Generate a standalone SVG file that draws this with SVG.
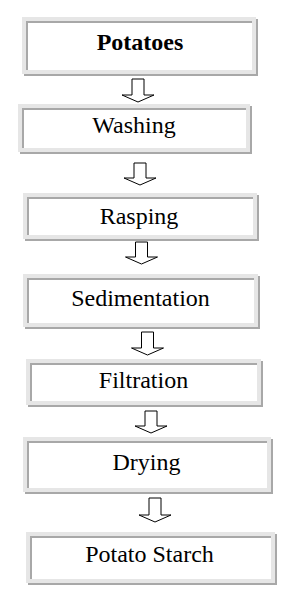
<svg xmlns="http://www.w3.org/2000/svg" width="296" height="597" viewBox="0 0 296 597">
<style>
.fr{fill:#e6e6e6}
.sh{fill:#a8a8a8}
.in{fill:#ffffff}
text{font-family:'Liberation Serif','Times New Roman',Times,serif;font-size:24px;fill:#000;text-anchor:middle}
.b{font-weight:bold}
.ar{fill:#fff;stroke:#000;stroke-width:1}
</style>
<rect width="296" height="597" fill="#fff"/>
<g id="potatoes">
<rect class="fr" x="22" y="17" width="234" height="57"/>
<rect class="sh" x="24" y="74" width="234" height="2"/>
<rect class="sh" x="256" y="19" width="2" height="57"/>
<rect class="sh" x="26" y="21" width="226" height="49"/>
<rect class="in" x="28" y="23" width="224" height="47"/>
<text class="b" x="140" y="50">Potatoes</text>
</g>
<g id="washing">
<rect class="fr" x="18" y="104" width="232" height="48"/>
<rect class="sh" x="20" y="152" width="232" height="2"/>
<rect class="sh" x="250" y="106" width="2" height="48"/>
<rect class="sh" x="22" y="108" width="224" height="40"/>
<rect class="in" x="24" y="110" width="222" height="38"/>
<text x="134" y="133">Washing</text>
</g>
<g id="rasping">
<rect class="fr" x="23" y="193" width="234" height="46"/>
<rect class="sh" x="25" y="239" width="234" height="2"/>
<rect class="sh" x="257" y="195" width="2" height="46"/>
<rect class="sh" x="27" y="197" width="226" height="38"/>
<rect class="in" x="29" y="199" width="224" height="36"/>
<text x="139" y="224">Rasping</text>
</g>
<g id="sedimentation">
<rect class="fr" x="23" y="274" width="235" height="53"/>
<rect class="sh" x="25" y="327" width="235" height="2"/>
<rect class="sh" x="258" y="276" width="2" height="53"/>
<rect class="sh" x="27" y="278" width="227" height="45"/>
<rect class="in" x="29" y="280" width="225" height="43"/>
<text x="140.5" y="306">Sedimentation</text>
</g>
<g id="filtration">
<rect class="fr" x="26" y="359" width="235" height="46"/>
<rect class="sh" x="28" y="405" width="235" height="2"/>
<rect class="sh" x="261" y="361" width="2" height="46"/>
<rect class="sh" x="30" y="363" width="227" height="38"/>
<rect class="in" x="32" y="365" width="225" height="36"/>
<text x="143.5" y="388">Filtration</text>
</g>
<g id="drying">
<rect class="fr" x="23" y="437" width="248" height="55"/>
<rect class="sh" x="25" y="492" width="248" height="2"/>
<rect class="sh" x="271" y="439" width="2" height="55"/>
<rect class="sh" x="27" y="441" width="240" height="47"/>
<rect class="in" x="29" y="443" width="238" height="45"/>
<text x="146.5" y="470">Drying</text>
</g>
<g id="starch">
<rect class="fr" x="26" y="532" width="249" height="51"/>
<rect class="sh" x="28" y="583" width="249" height="2"/>
<rect class="sh" x="275" y="534" width="2" height="51"/>
<rect class="sh" x="30" y="536" width="241" height="43"/>
<rect class="in" x="32" y="538" width="239" height="41"/>
<text x="149.5" y="562">Potato Starch</text>
</g>
<g id="connectors">
<path class="ar" d="M132 79H144V95H154L138 102L122 95H132Z"/>
<path class="ar" d="M134 163H146V178H156L140 185L124 178H134Z"/>
<path class="ar" d="M135.5 242H147.5V257H157.5L141.5 264L125.5 257H135.5Z"/>
<path class="ar" d="M141.5 332H153.5V348H163.5L147.5 355L131.5 348H141.5Z"/>
<path class="ar" d="M145 411H157V426H167L151 433L135 426H145Z"/>
<path class="ar" d="M149 498H161V515H171L155 522L139 515H149Z"/>
</g>
</svg>
